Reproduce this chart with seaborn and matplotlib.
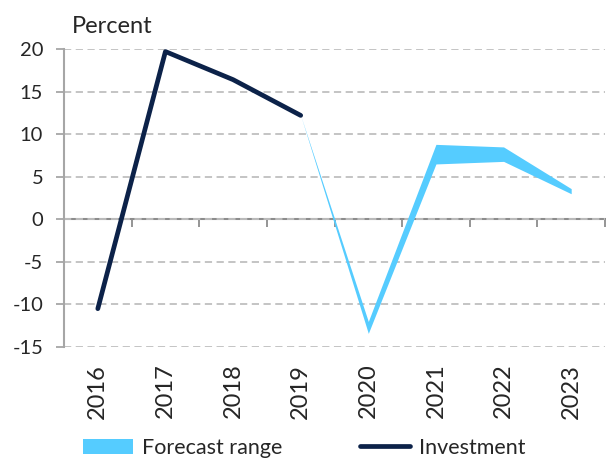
import numpy as np
import pandas as pd
import matplotlib
matplotlib.use("Agg")
import matplotlib.pyplot as plt
import seaborn as sns
from matplotlib.patches import Patch
from matplotlib.lines import Line2D

years = ['2016', '2017', '2018', '2019', '2020', '2021', '2022', '2023']
investment = [-10.5, 19.7, 16.4, 12.2, np.nan, np.nan, np.nan, np.nan]
forecast_low = [np.nan, np.nan, np.nan, 12.2, -13.4, 6.5, 6.8, 3.0]
forecast_high = [np.nan, np.nan, np.nan, 12.2, -12.0, 8.8, 8.5, 3.6]
yticks = [-15, -10, -5, 0, 5, 10, 15, 20]

sns.set_style('white')
plt.rcParams['font.family'] = ['Lato', 'DejaVu Sans']

navy = '#0C2249'
light = '#55CCFF'
grey = '#A6A6A6'

df = pd.DataFrame({'pos': np.arange(len(years)), 'year': years,
                   'investment': investment,
                   'low': forecast_low, 'high': forecast_high})

fig = plt.figure(figsize=(6.06, 4.62), dpi=100)
ax = fig.add_axes([64/606, 1-347/462, (605-64)/606, 298/462])

fr = df.dropna(subset=['low'])
ax.fill_between(fr['pos'], fr['low'], fr['high'], color=light, lw=0, zorder=2)
sns.lineplot(data=df, x='pos', y='investment', ax=ax, color=navy, lw=3.4,
             solid_capstyle='round', zorder=3)

ymin, ymax = yticks[0], yticks[-1]
ax.set_ylim(ymin, ymax)
ax.set_xlim(-0.5, len(years) - 0.5)
ax.set_yticks(yticks)
ax.set_yticklabels([str(v) for v in yticks], fontsize=14.5)
ax.yaxis.grid(True, linestyle=(0, (4, 2.5)), color='#BFBFBF', lw=1.3)
ax.set_axisbelow(True)
ax.set_xticks(df['pos'])
ax.set_xticklabels(years, rotation=90, fontsize=17)
ax.tick_params(axis='x', length=0, pad=12)
ax.tick_params(axis='y', length=6, width=1.3, color=grey, pad=9, left=True)
for s in ['top', 'right', 'bottom']:
    ax.spines[s].set_visible(False)
ax.spines['left'].set_color(grey)
ax.spines['left'].set_linewidth(1.5)
ax.set_xlabel('')
ax.set_ylabel('')

# zero line with category-boundary ticks
zloc = (0 - ymin) / (ymax - ymin)
sec = ax.secondary_xaxis(zloc, functions=(lambda x: x, lambda x: x))
sec.set_xticks(np.arange(len(years) + 1) - 0.5)
sec.tick_params(axis='x', length=6, width=1.3, color='#8C8C8C', labelbottom=False, direction='out')
sec.spines['bottom'].set_color('#8C8C8C')
sec.spines['bottom'].set_linewidth(1.5)

fig.text(72/606, 1-33/462, 'Percent', fontsize=17, va='baseline', ha='left')

handles = [Patch(facecolor=light, edgecolor='none'),
           Line2D([0], [0], color=navy, lw=3.4, solid_capstyle='round')]
fig.legend(handles, ['Forecast range', 'Investment'], loc='center left',
           bbox_to_anchor=(83/606, 1-448/462), ncol=2, frameon=False,
           fontsize=15.5, handlelength=2.3, handletextpad=0.45,
           columnspacing=3.6, borderpad=0, borderaxespad=0)

fig.savefig('out.png', dpi=100)
